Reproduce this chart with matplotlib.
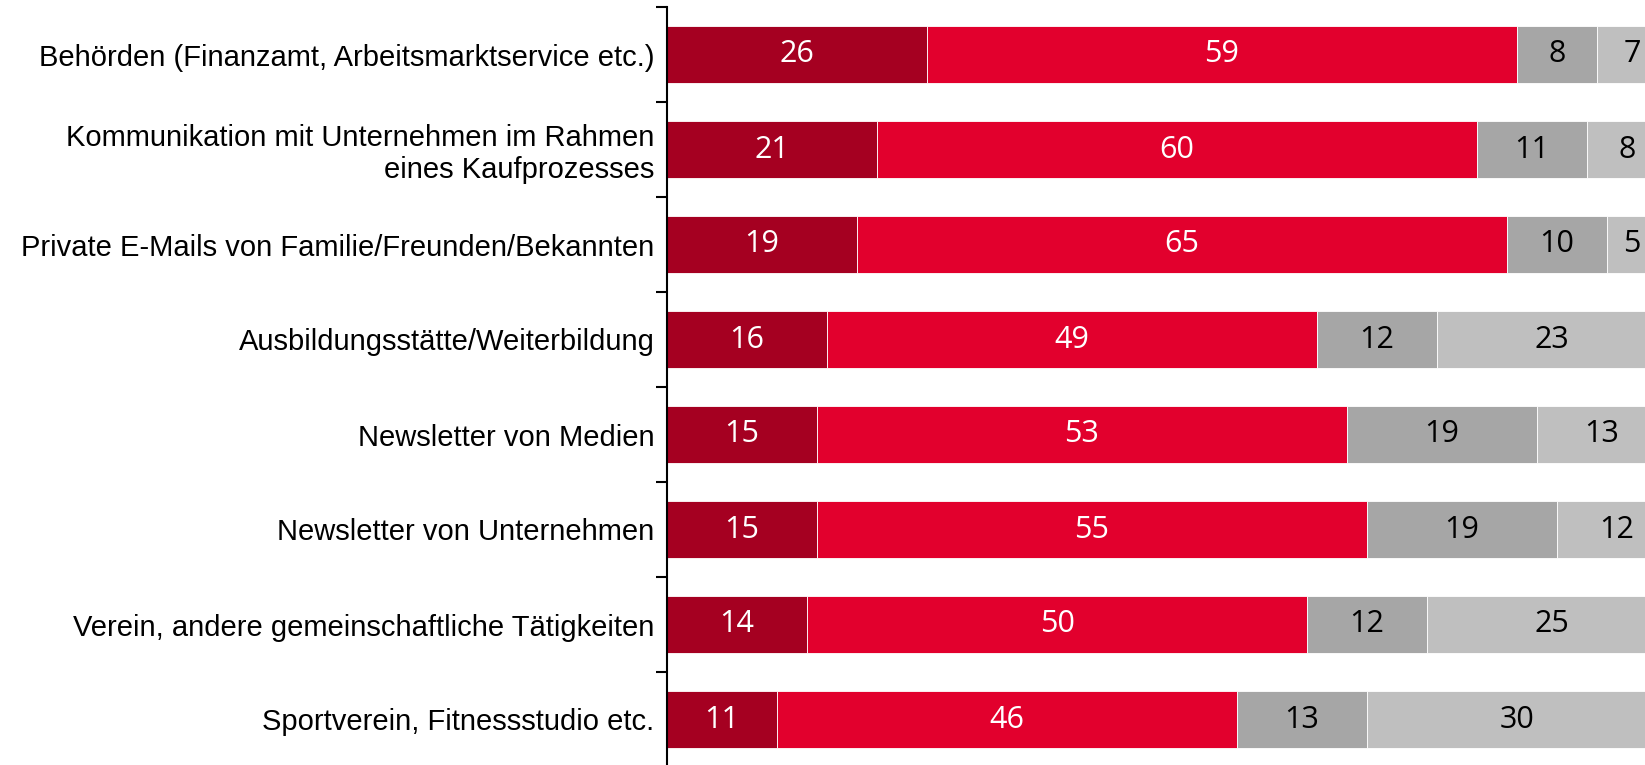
import matplotlib
matplotlib.use("Agg")
import matplotlib.pyplot as plt
import numpy as np

# Data
categories = [
    "Behörden (Finanzamt, Arbeitsmarktservice etc.)",
    "Kommunikation mit Unternehmen im Rahmen\neines Kaufprozesses",
    "Private E-Mails von Familie/Freunden/Bekannten",
    "Ausbildungsstätte/Weiterbildung",
    "Newsletter von Medien",
    "Newsletter von Unternehmen",
    "Verein, andere gemeinschaftliche Tätigkeiten",
    "Sportverein, Fitnessstudio etc.",
]
seg1 = [26, 21, 19, 16, 15, 15, 14, 11]
seg2 = [59, 60, 65, 49, 53, 55, 50, 46]
seg3 = [8, 11, 10, 12, 19, 19, 12, 13]
seg4 = [7, 8, 5, 23, 13, 12, 25, 30]

colors = ["#A50021", "#E2002D", "#A6A6A6", "#BFBFBF"]
text_colors = ["white", "white", "black", "black"]

fig = plt.figure(figsize=(16.45, 7.65), dpi=100)
ax = fig.add_axes([667 / 1645, -2 / 765, 1 - 667 / 1645, 760 / 765])

y = np.arange(len(categories))
left = np.zeros(len(categories))
for vals, col, tcol in zip([seg1, seg2, seg3, seg4], colors, text_colors):
    vals = np.array(vals, dtype=float)
    ax.barh(y, vals, left=left, height=0.59, color=col,
            edgecolor="white", linewidth=0.6)
    for yi, l, v in zip(y, left, vals):
        ax.text(l + v / 2, yi, f"{int(v)}", ha="center", va="center",
                color=tcol, fontsize=22, family="Open Sans", clip_on=True)
    left += vals

ax.set_xlim(0, 97.8)
ax.set_ylim(len(categories) - 0.5, -0.5)
ax.set_yticks(y)
ax.set_yticklabels(categories, fontsize=21, family="Liberation Sans",
                   linespacing=1.15)
ax.set_yticks(np.arange(-0.5, len(categories) + 0.5, 1), minor=True)
ax.tick_params(axis="y", which="major", length=0, pad=9)
ax.tick_params(axis="y", which="minor", length=8, width=1.5, direction="out")
ax.set_xticks([])
for s in ["top", "right", "bottom"]:
    ax.spines[s].set_visible(False)
ax.spines["left"].set_linewidth(1.5)

fig.savefig("out.png", dpi=100, facecolor="white")
